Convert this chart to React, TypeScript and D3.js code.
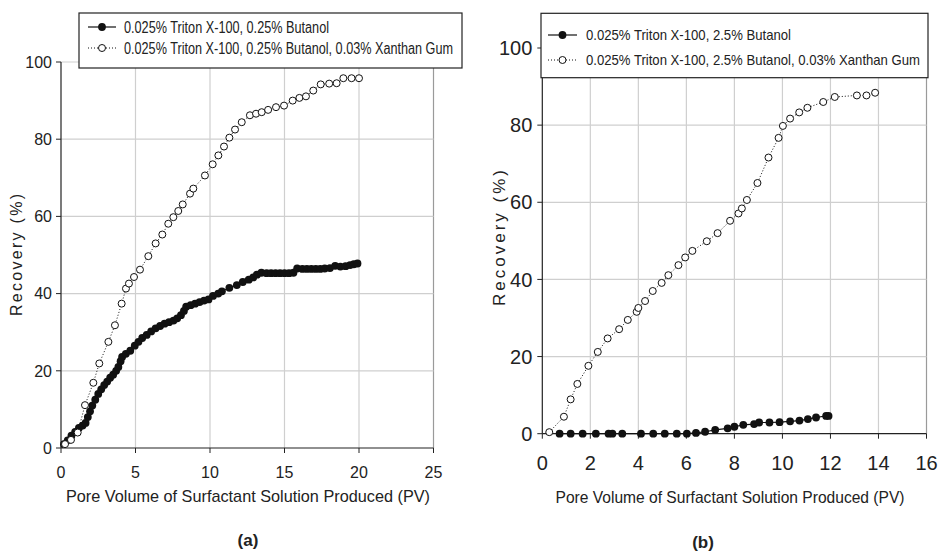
import React from "react";
import * as d3 from "d3";

// ---------- DATA ----------
const xLabel = "Pore Volume of Surfactant Solution Produced (PV)";
const yLabel = "Recovery (%)";

const legendA = [
  "0.025% Triton X-100, 0.25% Butanol",
  "0.025% Triton X-100, 0.25% Butanol, 0.03% Xanthan Gum",
];
const legendB = [
  "0.025% Triton X-100, 2.5% Butanol",
  "0.025% Triton X-100, 2.5% Butanol, 0.03% Xanthan Gum",
];

const ticksAX = [0, 5, 10, 15, 20, 25];
const ticksAY = [0, 20, 40, 60, 80, 100];
const ticksBX = [0, 2, 4, 6, 8, 10, 12, 14, 16];
const ticksBY = [0, 20, 40, 60, 80, 100];

// (a) 0.25% Butanol, no polymer
const seriesA1: [number, number][] = [
  [0.2, 1.0], [0.45, 2.0], [0.7, 3.2], [0.95, 4.2], [1.2, 5.2], [1.45, 5.8], [1.65, 6.5],
  [1.8, 8.0], [1.95, 9.5], [2.1, 11.0], [2.3, 12.5], [2.5, 14.0], [2.7, 15.2], [2.9, 16.3],
  [3.1, 17.2], [3.3, 18.2], [3.5, 19.0], [3.7, 20.0], [3.85, 21.0], [4.0, 22.5], [4.1, 23.6],
  [4.35, 24.4], [4.65, 25.2], [4.95, 26.5], [5.2, 27.5], [5.45, 28.5], [5.75, 29.3],
  [6.05, 30.2], [6.35, 31.0], [6.65, 31.6], [6.95, 32.2], [7.25, 32.6], [7.55, 33.0],
  [7.8, 33.6], [8.05, 34.4], [8.25, 35.5], [8.4, 36.6], [8.7, 37.0], [9.0, 37.4], [9.3, 37.8],
  [9.6, 38.2], [9.9, 38.5], [10.2, 39.4], [10.55, 40.0], [10.8, 40.6], [11.3, 41.5],
  [11.8, 42.2], [12.2, 43.0], [12.6, 43.6], [12.9, 44.2], [13.15, 44.9], [13.45, 45.4],
  [13.8, 45.3], [14.1, 45.3], [14.4, 45.3], [14.7, 45.3], [15.0, 45.3], [15.3, 45.3],
  [15.6, 45.4], [15.85, 46.5], [16.2, 46.4], [16.5, 46.4], [16.8, 46.4], [17.1, 46.4],
  [17.4, 46.4], [17.7, 46.5], [18.05, 46.6], [18.4, 47.2], [18.75, 47.0], [19.1, 47.1],
  [19.4, 47.4], [19.65, 47.6], [19.9, 47.8],
];

// (a) 0.25% Butanol + Xanthan Gum
const seriesA2: [number, number][] = [
  [0.27, 1.0], [0.67, 2.1], [1.12, 4.0], [1.61, 11.1], [2.17, 16.9], [2.57, 21.9],
  [3.18, 27.5], [3.62, 31.8], [4.07, 37.4], [4.36, 41.3], [4.56, 42.6], [4.9, 44.3],
  [5.3, 46.2], [5.86, 49.7], [6.35, 53.0], [6.8, 55.3], [7.2, 58.1], [7.54, 59.8],
  [7.87, 61.4], [8.17, 63.1], [8.66, 65.9], [8.88, 67.2], [9.66, 70.6], [10.18, 73.5],
  [10.56, 75.8], [10.94, 78.1], [11.3, 80.4], [11.68, 82.5], [12.13, 84.4], [12.68, 86.2],
  [13.09, 86.6], [13.47, 87.0], [13.9, 87.6], [14.43, 88.3], [14.97, 88.7], [15.55, 90.0],
  [16.0, 90.7], [16.44, 91.1], [16.93, 92.6], [17.43, 94.2], [18.0, 94.4], [18.5, 94.5],
  [18.95, 95.8], [19.5, 95.8], [20.0, 95.8],
];

// (b) 2.5% Butanol, no polymer
const seriesB1: [number, number][] = [
  [0.72, 0], [1.18, 0], [1.68, 0], [2.23, 0], [2.76, 0], [2.92, 0], [3.33, 0], [4.11, 0],
  [4.62, 0], [5.1, 0], [5.6, 0], [6.02, 0], [6.4, 0.2], [6.78, 0.5], [7.2, 1.0], [7.72, 1.4],
  [8.0, 1.8], [8.37, 2.3], [8.82, 2.5], [9.03, 2.9], [9.46, 2.9], [9.88, 3.0], [10.32, 3.2],
  [10.71, 3.4], [11.06, 3.8], [11.4, 4.2], [11.82, 4.6], [11.92, 4.6],
];

// (b) 2.5% Butanol + Xanthan Gum
const seriesB2: [number, number][] = [
  [0.29, 0.4], [0.9, 4.4], [1.18, 8.9], [1.46, 12.9], [1.92, 17.6], [2.31, 21.2],
  [2.72, 24.7], [3.2, 27.1], [3.56, 29.5], [3.93, 31.6], [4.0, 32.6], [4.28, 34.4],
  [4.6, 37.0], [4.97, 39.1], [5.25, 41.1], [5.67, 43.7], [5.95, 45.7], [6.25, 47.4],
  [6.85, 49.9], [7.3, 52.0], [7.82, 55.2], [8.17, 57.1], [8.31, 58.4], [8.52, 60.6],
  [8.96, 65.0], [9.42, 71.6], [9.84, 76.7], [10.02, 79.8], [10.32, 81.7], [10.7, 83.3],
  [11.04, 84.5], [11.7, 86.0], [12.18, 87.3], [13.1, 87.7], [13.5, 87.7], [13.86, 88.4],
];

// ---------- DRAWING ----------
const NARROW = "'Liberation Sans Narrow', 'Arial Narrow', 'Liberation Sans', Arial, sans-serif";
const SANS = "'Liberation Sans', Arial, sans-serif";

type PanelProps = {
  x0: number; x1: number; y0: number; y1: number;
  xDomain: [number, number]; yDomain: [number, number];
  xTicks: number[]; yTicks: number[];
  solid: [number, number][]; hollow: [number, number][];
  legend: string[];
  legendBox: { x: number; y: number; w: number; h: number };
  legendRows: number[]; legendLine: [number, number]; legendTextX: number;
  legendTextW: [number, number]; legendFont: number;
  tickFont: number; xTickBaseline: number; yTickGap: number;
  yTitleX: number; yTitleY: number; yTitleLen: number; yTitleFont: number;
  xTitleX: number; xTitleY: number; xTitleLen: number; xTitleFont: number;
  tag: string; tagX: number; tagY: number;
};

function Panel(p: PanelProps) {
  const xs = d3.scaleLinear().domain(p.xDomain).range([p.x0, p.x1]);
  const ys = d3.scaleLinear().domain(p.yDomain).range([p.y0, p.y1]);
  const line = d3.line<[number, number]>().x((d) => xs(d[0])).y((d) => ys(d[1]));
  const [lx0, lx1] = p.legendLine;
  const lmx = (lx0 + lx1) / 2;
  return (
    <g>
      {/* grid */}
      {p.xTicks.slice(1).map((t) => (
        <line key={"gx" + t} x1={xs(t)} x2={xs(t)} y1={ys(p.yDomain[1])} y2={ys(0)}
          stroke={t === p.xDomain[1] ? "#9a9a9a" : "#cfcfcf"} strokeWidth={1.2} />
      ))}
      {p.yTicks.slice(1).map((t) => (
        <line key={"gy" + t} x1={p.x0} x2={p.x1} y1={ys(t)} y2={ys(t)} stroke="#cfcfcf" strokeWidth={1.2} />
      ))}
      {/* axes */}
      <line x1={p.x0} x2={p.x0} y1={p.y1} y2={p.y0} stroke="#222" strokeWidth={1.2} />
      <line x1={p.x0} x2={p.x1} y1={p.y0} y2={p.y0} stroke="#222" strokeWidth={1.2} />
      {p.xTicks.map((t) => (
        <g key={"tx" + t}>
          <line x1={xs(t)} x2={xs(t)} y1={p.y0} y2={p.y0 + 5} stroke="#222" />
          <text x={xs(t)} y={p.xTickBaseline} textAnchor="middle" fontFamily={NARROW}
            fontSize={p.tickFont} fill="#222">{t}</text>
        </g>
      ))}
      {p.yTicks.map((t) => (
        <g key={"ty" + t}>
          <line x1={p.x0 - 5} x2={p.x0} y1={ys(t)} y2={ys(t)} stroke="#222" />
          <text x={p.x0 - p.yTickGap} y={ys(t)} dy="0.36em" textAnchor="end" fontFamily={NARROW}
            fontSize={p.tickFont} fill="#222">{t}</text>
        </g>
      ))}
      {/* series */}
      <path d={line(p.hollow) || ""} fill="none" stroke="#111" strokeWidth={1} strokeDasharray="1,2" />
      <path d={line(p.solid) || ""} fill="none" stroke="#111" strokeWidth={1.2} />
      {p.solid.map((d, i) => (
        <circle key={"s" + i} cx={xs(d[0])} cy={ys(d[1])} r={3.9} fill="#111" />
      ))}
      {p.hollow.map((d, i) => (
        <circle key={"h" + i} cx={xs(d[0])} cy={ys(d[1])} r={3.5} fill="#fff" stroke="#111" strokeWidth={1} />
      ))}
      {/* legend */}
      <rect x={p.legendBox.x} y={p.legendBox.y} width={p.legendBox.w} height={p.legendBox.h}
        fill="#fff" stroke="#222" strokeWidth={1.2} />
      <line x1={lx0} x2={lx1} y1={p.legendRows[0]} y2={p.legendRows[0]} stroke="#111" strokeWidth={1.2} />
      <circle cx={lmx} cy={p.legendRows[0]} r={3.9} fill="#111" />
      <line x1={lx0} x2={lx1} y1={p.legendRows[1]} y2={p.legendRows[1]} stroke="#111" strokeDasharray="1,2" />
      <circle cx={lmx} cy={p.legendRows[1]} r={3.5} fill="#fff" stroke="#111" />
      {p.legend.map((s, i) => (
        <text key={"lg" + i} x={p.legendTextX} y={p.legendRows[i]} dy="0.36em" fontFamily={NARROW}
          fontSize={p.legendFont} fill="#222" textLength={p.legendTextW[i]} lengthAdjust="spacingAndGlyphs">{s}</text>
      ))}
      {/* titles */}
      <text transform={`translate(${p.yTitleX},${p.yTitleY}) rotate(-90)`} textAnchor="middle"
        fontFamily={SANS} fontSize={p.yTitleFont} fill="#222" textLength={p.yTitleLen}
        lengthAdjust="spacing">{yLabel}</text>
      <text x={p.xTitleX} y={p.xTitleY} textAnchor="middle" fontFamily={NARROW} fontSize={p.xTitleFont}
        fill="#222" textLength={p.xTitleLen} lengthAdjust="spacingAndGlyphs">{xLabel}</text>
      <text x={p.tagX} y={p.tagY} textAnchor="middle" fontFamily={SANS} fontWeight="bold"
        fontSize={17} fill="#222">{p.tag}</text>
    </g>
  );
}

export default function App() {
  return (
    <svg width={938} height={552} style={{ position: "absolute", left: 0, top: 0, background: "#fff" }}>
      <rect x={0} y={0} width={938} height={552} fill="#fff" />
      <Panel
        x0={61} x1={433.5} y0={448} y1={62}
        xDomain={[0, 25]} yDomain={[0, 100]} xTicks={ticksAX} yTicks={ticksAY}
        solid={seriesA1} hollow={seriesA2} legend={legendA}
        legendBox={{ x: 79, y: 13, w: 383, h: 55 }} legendRows={[27, 48]}
        legendLine={[88, 116]} legendTextX={124} legendTextW={[205, 329]} legendFont={16}
        tickFont={16} xTickBaseline={478} yTickGap={9}
        yTitleX={22} yTitleY={255} yTitleLen={122} yTitleFont={16}
        xTitleX={248} xTitleY={502} xTitleLen={364} xTitleFont={17}
        tag="(a)" tagX={248} tagY={546}
      />
      <Panel
        x0={542.3} x1={926.5} y0={433.7} y1={48}
        xDomain={[0, 16]} yDomain={[0, 100]} xTicks={ticksBX} yTicks={ticksBY}
        solid={seriesB1} hollow={seriesB2} legend={legendB}
        legendBox={{ x: 541, y: 13.3, w: 387, h: 64.4 }} legendRows={[35, 60]}
        legendLine={[548, 577]} legendTextX={586} legendTextW={[205, 334]} legendFont={15}
        tickFont={20} xTickBaseline={470} yTickGap={10}
        yTitleX={505} yTitleY={238} yTitleLen={136} yTitleFont={17}
        xTitleX={730} xTitleY={503} xTitleLen={349} xTitleFont={16.5}
        tag="(b)" tagX={703} tagY={548}
      />
    </svg>
  );
}
